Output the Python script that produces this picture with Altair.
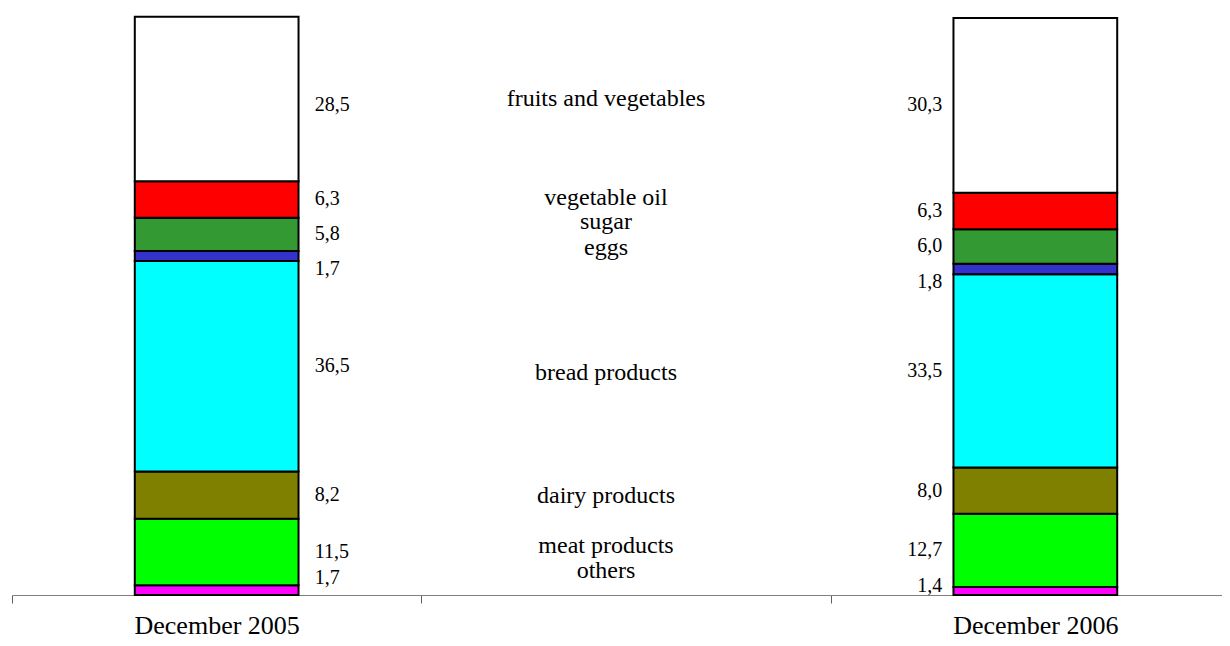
import altair as alt
import pandas as pd

periods = ["December 2005", "December 2006"]
x_domain = ["December 2005", "mid", "December 2006"]
categories = ["others", "meat products", "dairy products", "bread products",
              "eggs", "sugar", "vegetable oil", "fruits and vegetables"]
values_2005 = [1.7, 11.5, 8.2, 36.5, 1.7, 5.8, 6.3, 28.5]
values_2006 = [1.4, 12.7, 8.0, 33.5, 1.8, 6.0, 6.3, 30.3]
colors = ["#FF00FF", "#00FF00", "#808000", "#00FFFF",
          "#3333CC", "#339933", "#FF0000", "#FFFFFF"]
label_nudge_2005 = [2.1, 0, 0, 0, -2.25, 0, 0, -1.0]
label_nudge_2006 = [0.9, 0, 0, 0, -2.25, 0, 0, 0]
middle_label_y = [4.2, 8.5, 17.2, 38.5, 60.1, 64.6, 68.8, 86.0]

rows = []
for period, vals, nudges in [(periods[0], values_2005, label_nudge_2005),
                             (periods[1], values_2006, label_nudge_2006)]:
    cum = 0.0
    for i, (cat, v, n) in enumerate(zip(categories, vals, nudges)):
        rows.append({
            "period": period, "category": cat, "order": i, "value": v,
            "start": cum, "end": cum + v,
            "label_y": cum + v / 2 + n,
            "label": f"{v:.1f}".replace(".", ","),
        })
        cum += v
df = pd.DataFrame(rows)
mid_df = pd.DataFrame({"period": ["mid"] * len(categories),
                       "category": categories, "y": middle_label_y})

FONT = "Liberation Serif"
x_scale = alt.Scale(domain=x_domain, paddingInner=0, paddingOuter=0)
y_scale = alt.Scale(domain=[0, 100])

x_enc = alt.X("period:N", scale=x_scale, sort=x_domain,
              axis=alt.Axis(title=None, labelExpr="datum.value == 'mid' ? '' : datum.value",
                            tickBand="extent", tickSize=8, domainColor="#808080",
                            tickColor="#606060", domainWidth=1, tickWidth=1,
                            labelFont=FONT, labelFontSize=26, labelColor="black",
                            labelPadding=9, labelAngle=0, grid=False))

bars = alt.Chart(df).mark_bar(width=alt.RelativeBandSize(0.4), stroke="black",
                              strokeWidth=2).encode(
    x=x_enc,
    y=alt.Y("start:Q", scale=y_scale, axis=None),
    y2="end:Q",
    color=alt.Color("category:N", scale=alt.Scale(domain=categories, range=colors),
                    legend=None),
)

left_labels = alt.Chart(df[df.period == periods[0]]).mark_text(
    align="left", baseline="middle", dx=98, font=FONT, fontSize=20, color="black"
).encode(x=alt.X("period:N", scale=x_scale, sort=x_domain),
         y=alt.Y("label_y:Q", scale=y_scale), text="label:N")

right_labels = alt.Chart(df[df.period == periods[1]]).mark_text(
    align="right", baseline="middle", dx=-93, font=FONT, fontSize=20, color="black"
).encode(x=alt.X("period:N", scale=x_scale, sort=x_domain),
         y=alt.Y("label_y:Q", scale=y_scale), text="label:N")

mid_labels = alt.Chart(mid_df).mark_text(
    align="center", baseline="middle", dx=-20, font=FONT, fontSize=24, color="black"
).encode(x=alt.X("period:N", scale=x_scale, sort=x_domain),
         y=alt.Y("y:Q", scale=y_scale), text="category:N")

chart = alt.layer(bars, left_labels, right_labels, mid_labels).properties(
    width=1228, height=577,
    background="white",
    autosize=alt.AutoSizeParams(type="none"),
    padding={"left": 4, "top": 10, "right": -18, "bottom": 43},
).configure_view(stroke=None)

chart.save("out.html", embed_options={"renderer": "svg", "actions": False})
